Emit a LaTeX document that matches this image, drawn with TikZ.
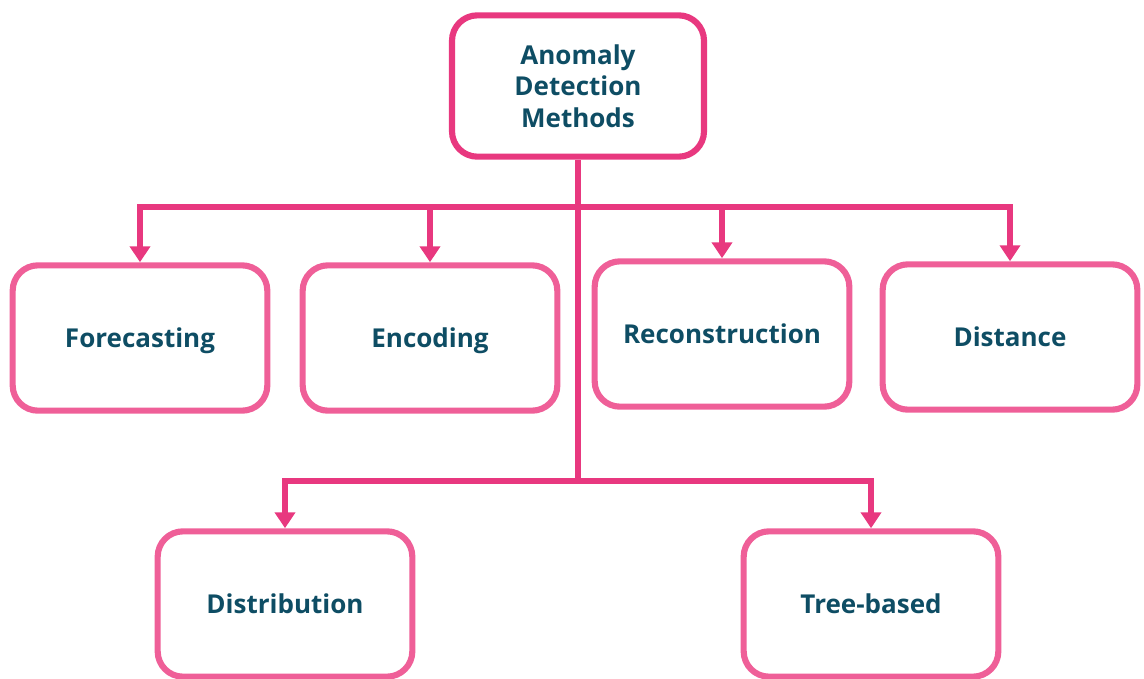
\documentclass[tikz,border=0pt]{standalone}
\usepackage{fontspec}
\setmainfont{Open Sans}
\usepackage{tikz}
\usetikzlibrary{arrows.meta}
\definecolor{hotpink}{HTML}{E8387F}
\definecolor{softpink}{HTML}{EF5F98}
\definecolor{deepteal}{HTML}{0E4D64}
\tikzset{
	box/.style={draw=softpink,line width=4.6pt,rounded corners=19pt,fill=white,
		minimum width=191pt,minimum height=109pt,align=center,
		font=\fontsize{19.5}{23.5}\selectfont\bfseries,text=deepteal},
	leafbox/.style={box,text depth=0pt},
	rootbox/.style={box,draw=hotpink,minimum width=189pt,minimum height=106pt},
	link/.style={draw=hotpink,line width=4.6pt},
	tolink/.style={link,-{Triangle[width=15pt,length=12pt]}}
}
\begin{document}
\begin{tikzpicture}[x=0.75pt,y=-0.75pt]
	\useasboundingbox (0,0) rectangle (1144,678);

	\node [rootbox] (root) at (578,86) {Anomaly\\Detection\\Methods};
	\node [leafbox] (fore) at (140,338) {Forecasting};
	\node [leafbox] (enco) at (430,338) {Encoding};
	\node [leafbox] (reco) at (722,334) {Reconstruction};
	\node [leafbox] (dist) at (1010,337) {Distance};
	\node [leafbox] (distr) at (285,604) {Distribution};
	\node [leafbox] (tree) at (871,604) {Tree-based};

	\coordinate (upbus) at (578,207);
	\coordinate (lowbus) at (578,481);

	\draw [link] (root.south) -- (lowbus);
	\draw [tolink] (upbus) -| (fore.north);
	\draw [tolink] (upbus) -| (enco.north);
	\draw [tolink] (upbus) -| (reco.north);
	\draw [tolink] (upbus) -| (dist.north);
	\draw [tolink] (lowbus) -| (distr.north);
	\draw [tolink] (lowbus) -| (tree.north);
\end{tikzpicture}
\end{document}
